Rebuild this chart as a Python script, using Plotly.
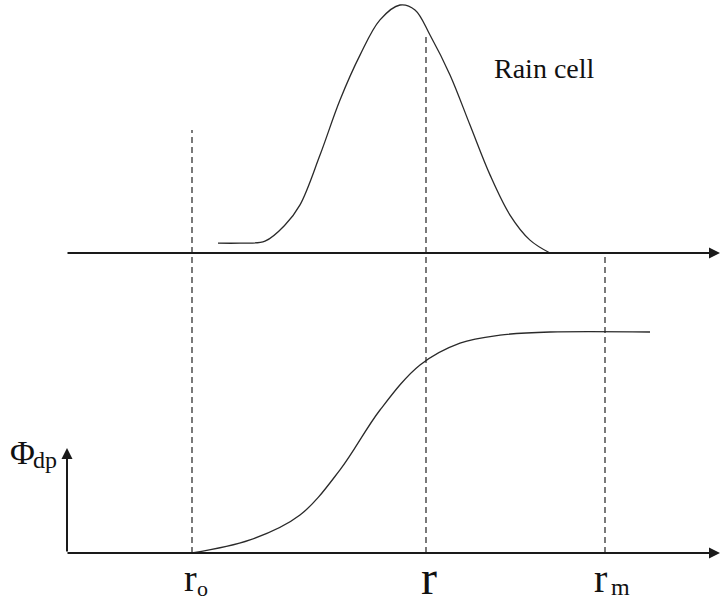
import plotly.graph_objects as go

# Range along the radar beam (arbitrary units) and the two profiles drawn above it
rain_r = [21.8, 24.0, 26.5, 28.5, 30.0, 32.0, 34.0, 36.0, 38.0, 40.0, 41.5, 43.0,
          45.0, 47.0, 49.0, 51.0, 53.0, 55.0]
rain_z = [0.040, 0.040, 0.048, 0.113, 0.194, 0.395, 0.617, 0.798, 0.940, 1.0, 0.98,
          0.879, 0.718, 0.516, 0.315, 0.153, 0.052, 0.0]

phi_r = [19.2, 25.0, 30.0, 34.0, 38.0, 42.0, 46.0, 50.0, 55.0, 65.0]
phi_v = [0.0, 0.059, 0.172, 0.376, 0.647, 0.851, 0.95, 0.986, 1.0, 1.0]

# Marked ranges on the beam
r_start = 6.6
r_o = 19.2
r_mid = 42.6
r_m = 60.5
r_end = 72.0

W, H = 722, 603
SERIF = "'Liberation Serif', 'Times New Roman', Times, serif"

fig = go.Figure()

curve_style = dict(color="#2a2a2a", width=1.3, shape="spline", smoothing=1.0)

fig.add_trace(go.Scatter(x=rain_r, y=rain_z, mode="lines", line=curve_style,
                         yaxis="y", hoverinfo="skip", showlegend=False))
fig.add_trace(go.Scatter(x=phi_r, y=phi_v, mode="lines", line=curve_style,
                         yaxis="y2", hoverinfo="skip", showlegend=False))

# Dashed range markers
dash = dict(color="#222222", width=1.2, dash="6px,4px")
shapes = [
    dict(type="line", xref="x", yref="y2", x0=r_o, x1=r_o, y0=0, y1=1.914, line=dash),
    dict(type="line", xref="x", yref="y2", x0=r_mid, x1=r_mid, y0=0, y1=2.335, line=dash),
    dict(type="line", xref="x", yref="y2", x0=r_m, x1=r_m, y0=0, y1=1.348, line=dash),
]

# Axes drawn as arrows
def arrow(x0, y0, x1, y1, yref):
    return dict(x=x1, y=y1, ax=x0, ay=y0, xref="x", yref=yref, axref="x", ayref=yref,
                text="", showarrow=True, arrowhead=2, arrowsize=1.1, arrowwidth=2,
                arrowcolor="#1a1a1a", standoff=0, startstandoff=0)

annotations = [
    arrow(r_start, 0, r_end, 0, "y"),
    arrow(r_start, 0, r_end, 0, "y2"),
    arrow(6.7, 0, 6.7, 0.475, "y2"),
]

def label(text, px, py, size, anchor="center"):
    return dict(text=text, x=px / W, y=1 - py / H, xref="paper", yref="paper",
                showarrow=False, xanchor=anchor, yanchor="middle",
                font=dict(family=SERIF, size=size, color="#111111"))

annotations += [
    label("Rain cell", 544, 68, 28),
    label("\u03a6", 22, 452, 34),
    label("dp", 45, 460, 24),
    label("r", 190, 578, 38),
    label("o", 203, 588, 22),
    label("r", 429, 577, 48),
    label("r", 600, 578, 40),
    label("m", 620, 587, 24),
]

fig.update_layout(
    width=W, height=H,
    margin=dict(l=0, r=0, t=0, b=0),
    paper_bgcolor="white", plot_bgcolor="white",
    font=dict(family=SERIF),
    xaxis=dict(range=[0, 72.2], visible=False, fixedrange=True),
    yaxis=dict(range=[-1.4113, 1.0202], visible=False, fixedrange=True),
    yaxis2=dict(range=[-0.2262, 2.5023], visible=False, overlaying="y", fixedrange=True),
    shapes=shapes,
    annotations=annotations,
    showlegend=False,
)

fig.write_html("out.html")
